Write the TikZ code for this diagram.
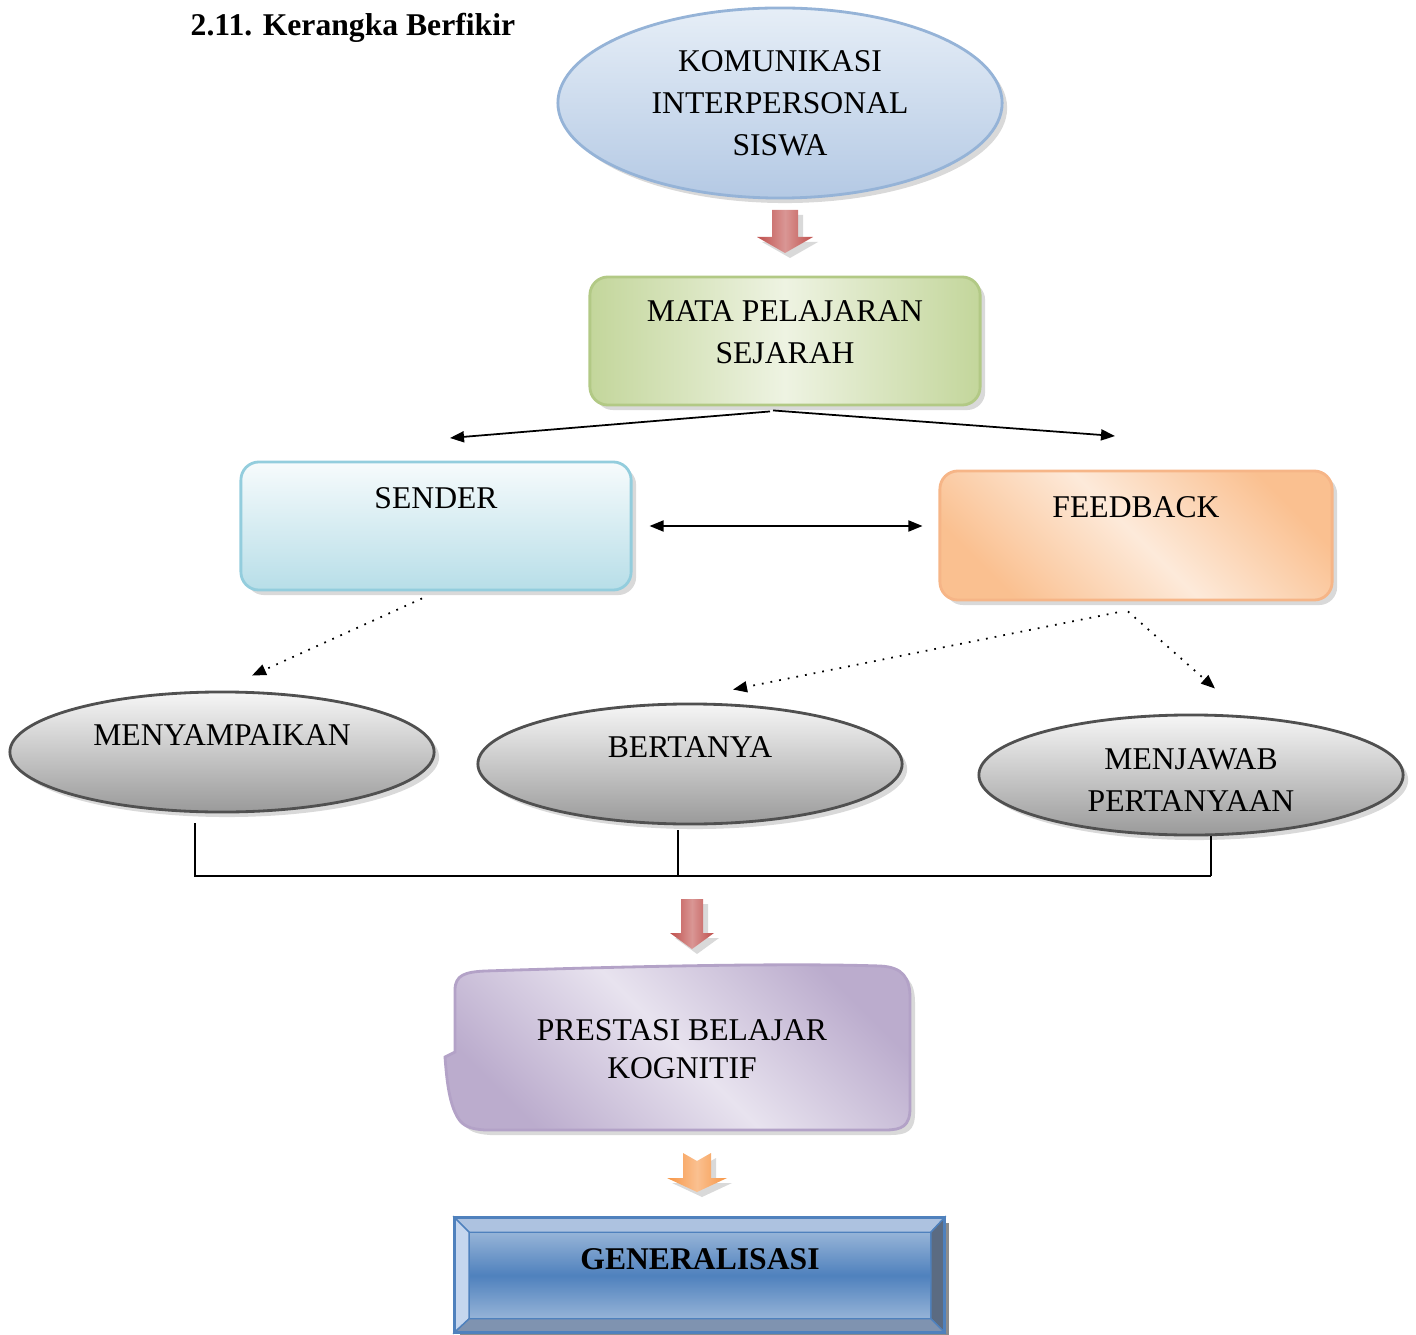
\documentclass[tikz,border=0pt]{standalone}
\usepackage{fontspec}
\setmainfont{Liberation Serif}
\usetikzlibrary{arrows.meta, positioning, shapes.geometric, shadows}

\definecolor{biru1}{HTML}{E6EEF7}
\definecolor{biru2}{HTML}{B4C9E4}
\definecolor{birugaris}{HTML}{95B3D7}
\definecolor{hijau1}{HTML}{C3D69B}
\definecolor{hijau2}{HTML}{EEF3E2}
\definecolor{hijaugaris}{HTML}{B2C985}
\definecolor{cyan1}{HTML}{F7FBFC}
\definecolor{cyan2}{HTML}{B7DEE8}
\definecolor{cyangaris}{HTML}{93CDDD}
\definecolor{jingga1}{HTML}{FAC090}
\definecolor{jingga2}{HTML}{FDEADA}
\definecolor{jinggagaris}{HTML}{F6B587}
\definecolor{abu1}{HTML}{F6F6F6}
\definecolor{abu2}{HTML}{9A9A9A}
\definecolor{abugaris}{HTML}{505050}
\definecolor{ungu1}{HTML}{BBACCD}
\definecolor{ungu2}{HTML}{E8E3EF}
\definecolor{ungugaris}{HTML}{B3A2C7}
\definecolor{merah}{HTML}{C0504D}
\definecolor{oranye}{HTML}{F79646}
\definecolor{tombol1}{HTML}{95B3D7}
\definecolor{tombol2}{HTML}{4F81BD}
\definecolor{tepi}{HTML}{4F81BD}
\definecolor{bevatas}{HTML}{ADC2E0}
\definecolor{bevkiri}{HTML}{C5D6EE}
\definecolor{bevkanan}{HTML}{5B6B82}
\definecolor{bevbawah}{HTML}{7F93B0}

\tikzstyle{panah} = [line width=0.5pt, -{Triangle[length=1.4mm, width=1.1mm]}]
\tikzstyle{duapanah} = [line width=0.5pt, {Triangle[length=1.4mm, width=1.1mm]}-{Triangle[length=1.4mm, width=1.1mm]}]
\tikzstyle{panahtitik} = [panah, dotted]
\tikzstyle{garis} = [line width=0.5pt]
\tikzstyle{bayang} = [drop shadow={shadow xshift=0.5mm, shadow yshift=-0.5mm, opacity=0.3}]
\tikzstyle{kotak} = [rectangle, rounded corners=0.18cm, draw, line width=0.8pt, inner sep=0pt,
  align=center, bayang]
\tikzstyle{elips} = [ellipse, draw, line width=0.8pt, inner sep=0pt, bayang]
\tikzstyle{abu} = [top color=abu1, bottom color=abu2, draw=abugaris,
  minimum width=4.24cm, minimum height=1.2cm]
\tikzstyle{naik} = [text height=0.25cm, text depth=0.6cm]
\tikzstyle{naik2} = [text height=0.25cm, text depth=0.38cm]
\tikzstyle{tombol} = [rectangle, inner sep=0pt, minimum width=4.6cm, minimum height=0.85cm,
  top color=tombol1, bottom color=tombol1, middle color=tombol2]

\begin{document}
\begin{tikzpicture}[x=0.01cm, y=-0.01cm, font=\fontsize{9}{12}\selectfont]
  \useasboundingbox (0,0) rectangle (1416,1334);

  \node[anchor=base west, inner sep=0pt] (judul) at (190,36) {\textbf{2.11. Kerangka Berfikir}};

  % boxes
  \node[elips, align=center, top color=biru1, bottom color=biru2, draw=birugaris,
    minimum width=4.44cm, minimum height=1.9cm] (kom) at (780,103) {KOMUNIKASI\\INTERPERSONAL\\SISWA};
  \node[kotak, left color=hijau1, right color=hijau1, middle color=hijau2, draw=hijaugaris,
    text height=0.5cm, text depth=0.05cm,
    minimum width=3.9cm, minimum height=1.28cm] (mapel) at (785,341) {MATA PELAJARAN\\SEJARAH};
  \node[kotak, naik, top color=cyan1, bottom color=cyan2, draw=cyangaris,
    minimum width=3.9cm, minimum height=1.28cm] (sender) at (436,526) {SENDER};
  \node[kotak, naik, left color=jingga1, right color=jingga1, middle color=jingga2, shading angle=135,
    draw=jinggagaris, minimum width=3.92cm, minimum height=1.29cm] (feedback) at (1136,535.5) {FEEDBACK};

  \node[elips, abu, naik2] (sampai) at (222,752) {MENYAMPAIKAN};
  \node[elips, abu, naik2] (tanya) at (690,764) {BERTANYA};
  \node[elips, abu, align=center, text height=0.76cm, text depth=0.03cm] (jawab) at (1191,775) {MENJAWAB\\PERTANYAAN};

  % block arrows
  \foreach \x/\y/\c/\n/\s/\h/\p/\t in {785/210/merah/0/13/28/27/43, 692/899/merah/0/11/22/34/50,
                                      697/1153/oranye/8/14/30/25/39}
    \shade[left color=\c, right color=\c, middle color=\c!60!white, bayang]
      (\x-\s,\y) -- (\x,\y+\n) -- (\x+\s,\y) -- (\x+\s,\y+\p) -- (\x+\h,\y+\p) -- (\x,\y+\t)
      -- (\x-\h,\y+\p) -- (\x-\s,\y+\p) -- cycle;

  % connectors
  \coordinate (kiri) at (450,438);
  \coordinate (kanan) at (1115,436);
  \draw[panah] ([xshift=-0.15cm,yshift=-0.05cm]mapel.south) -- (kiri);
  \draw[panah] ([xshift=-0.12cm,yshift=-0.04cm]mapel.south) -- (kanan);
  \draw[duapanah] ([xshift=0.17cm]sender.east) -- ([xshift=-0.16cm]sender.east -| feedback.west);
  \draw[panahtitik] ([xshift=-0.14cm,yshift=-0.07cm]sender.south) -- ([xshift=0.3cm,yshift=0.15cm]sampai.north);
  \draw[panahtitik] ([xshift=-0.19cm,yshift=-0.11cm]feedback.south) -- ([xshift=0.43cm,yshift=0.13cm]tanya.north);
  \draw[panahtitik] ([xshift=-0.08cm,yshift=-0.1cm]feedback.south) -- ([xshift=0.24cm,yshift=0.25cm]jawab.north);

  \coordinate (dasar) at (0,876);
  \coordinate (g1) at ([xshift=-0.27cm,yshift=-0.1cm]sampai.south);
  \coordinate (g2) at ([xshift=-0.12cm,yshift=-0.05cm]tanya.south);
  \coordinate (g3) at ([xshift=0.2cm]jawab.south);
  \draw[garis] (g1) -- (g1 |- dasar) -- (g3 |- dasar);
  \draw[garis] (g2) -- (g2 |- dasar);
  \draw[garis] (g3) -- (g3 |- dasar);

  % prestasi
  \shade[left color=ungu1, right color=ungu1, middle color=ungu2, shading angle=135,
    draw=ungugaris, line width=0.8pt, bayang]
    (455,1052) -- (455,990) .. controls (455,975) and (465,972) .. (485,971)
    .. controls (640,966) and (790,963) .. (880,966) .. controls (903,967) and (910,978) .. (910,998)
    -- (910,1108) .. controls (910,1126) and (902,1130) .. (885,1130) -- (485,1130)
    .. controls (470,1129) and (463,1126) .. (458,1118) .. controls (450,1105) and (447,1085) .. (445,1057)
    -- cycle;
  \node[align=center] (prestasi) at (682,1049) {PRESTASI BELAJAR\\[-1.2pt]KOGNITIF};

  % generalisasi
  \fill[black!45] (460,1223) rectangle (949,1337);
  \node[tombol, naik2] (general) at (700,1275.5) {\textbf{GENERALISASI}};
  \coordinate (b1) at ([shift={(-0.15cm,0.15cm)}]general.north west);
  \coordinate (b2) at ([shift={(0.14cm,0.15cm)}]general.north east);
  \coordinate (b3) at ([shift={(0.14cm,-0.14cm)}]general.south east);
  \coordinate (b4) at ([shift={(-0.15cm,-0.14cm)}]general.south west);
  \filldraw[draw=tepi, fill=bevatas] (b1) -- (b2) -- (general.north east) -- (general.north west) -- cycle;
  \filldraw[draw=tepi, fill=bevkiri] (b1) -- (general.north west) -- (general.south west) -- (b4) -- cycle;
  \filldraw[draw=tepi, fill=bevkanan] (b2) -- (b3) -- (general.south east) -- (general.north east) -- cycle;
  \filldraw[draw=tepi, fill=bevbawah] (b4) -- (general.south west) -- (general.south east) -- (b3) -- cycle;
  \draw[draw=tepi, line width=0.8pt] (b1) rectangle (b3);
\end{tikzpicture}
\end{document}
